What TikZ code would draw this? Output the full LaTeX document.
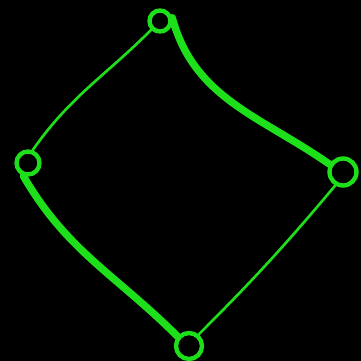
\documentclass[tikz,border=0pt]{standalone}
\usepackage{xcolor}
\usepackage{tikz}
\usetikzlibrary{positioning}
\definecolor{GlowGreen}{HTML}{1EE01A}

\begin{document}
\begin{tikzpicture}[
  x=0.02cm, y=-0.02cm,
  vert/.style={circle, draw=GlowGreen, line width=2.5pt, inner sep=0pt},
  thinedge/.style={draw=GlowGreen, line width=1.5pt, line cap=round},
  thickedge/.style={draw=GlowGreen, line width=4.2pt, line cap=round},
]

% ===== background =====
  \fill[black] (0,0) rectangle (361,361);
  \useasboundingbox (0,0) rectangle (361,361);

% ===== nodes =====
  \node[vert, minimum size=0.42cm] (T) at (160,21) {};
  \node[vert, minimum size=0.46cm] (L) at (28,163) {};
  \node[vert, minimum size=0.54cm] (R) at (343,172) {};
  \node[vert, minimum size=0.52cm] (B) at (189,346) {};

% ===== edges =====
  \draw[thinedge] (T.225) to[out=225, in=55] (L.70);
  \draw[thickedge] (T.15) to[out=-75, in=145] (R.150);
  \draw[thinedge] (R.240) to[out=230, in=45] (B.50);
  \draw[thickedge] (L.250) to[out=-60, in=135] (B.140);

\end{tikzpicture}
\end{document}
